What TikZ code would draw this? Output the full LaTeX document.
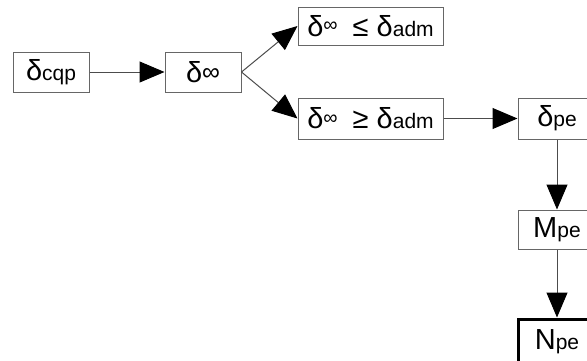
\documentclass[tikz,border=0pt]{standalone}
\usepackage{fontspec}
\usepackage{graphicx}
\setmainfont{Liberation Sans}
\usetikzlibrary{arrows.meta}

% smaller lower-case index text set on the baseline
\newcommand\idx[1]{{\fontsize{21}{21}\selectfont #1}}
% raised infinity sign: size and lift
\newcommand\infy[2][25]{{\fontsize{#1}{#1}\selectfont\raisebox{#2}{∞}}}

\begin{document}
\begin{tikzpicture}[x=1pt,y=-1pt,
  box/.style={draw=black!60, line width=1pt, inner sep=0pt, fill=white,
              minimum width=76pt, minimum height=40pt,
              font=\fontsize{29}{29}\selectfont},
  endbox/.style={box, draw=black, line width=3pt},
  link/.style={draw=black!70, line width=1pt,
               -{Triangle[length=25pt,width=21pt,color=black]}}]

\useasboundingbox (0,0) rectangle (587,360);
\clip (0,0) rectangle (587,360);

% boxes
\node[box] (cqp) at (51,72) {δ\idx{cqp}};
\node[box] (inf) at (203,72) {δ\infy{2pt}};
\node[box, minimum width=145pt, minimum height=38pt] (le) at (370.5,26)
  {δ\infy[20]{4.5pt}\hspace{7pt} ≤ δ\idx{adm}};
\node[box, minimum width=145pt, minimum height=41pt] (ge) at (370.5,118.5)
  {δ\infy[20]{4.5pt}\hspace{7pt} ≥ δ\idx{adm}};
\node[box, minimum width=78pt, minimum height=41pt] (pe) at (557,118.5) {δ\idx{pe}};
\node[box, minimum width=78pt, minimum height=39pt] (M) at (557,229.5) {M\idx{pe}};
\node[endbox, minimum width=78pt, minimum height=46pt] (N) at (557,342) {N\idx{pe}};

% connectors
\draw[link] (cqp.east) -- (inf.west);
\draw[link] (inf.east) -- (le.west);
\draw[link] (inf.east) -- (ge.west);
\draw[link] (ge.east) -- (pe.west);
\draw[link] (pe.south) -- (M.north);
\draw[link] (M.south) -- (N.north);
\end{tikzpicture}
\end{document}
